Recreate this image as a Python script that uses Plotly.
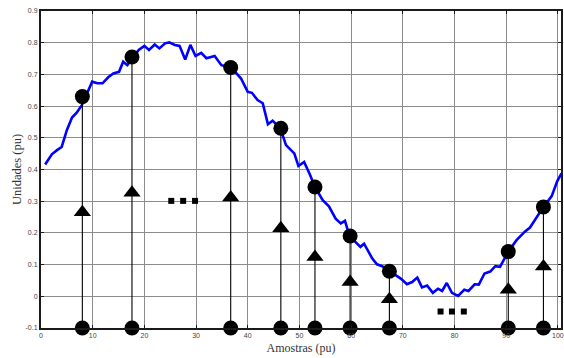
import plotly.graph_objects as go

# Blue signal curve (traced)
line_x = [0.8, 2.1, 3.1, 4.0, 5.0, 6.0, 6.9, 7.9, 8.9, 9.9, 10.9, 11.9, 13.0, 14.0, 15.1, 15.9, 16.7,
          17.8, 18.9, 20.0, 20.9, 22.0, 22.9, 24.0, 24.8, 25.9, 26.8, 27.9, 28.9, 29.9, 31.0, 32.0,
          33.6, 34.9, 36.8, 38.7, 40.0, 40.8, 41.9, 42.9, 43.9, 44.8, 46.3, 47.4, 49.0, 49.8, 50.9,
          52.0, 53.0, 54.5, 55.7, 57.0, 58.0, 58.8, 59.7, 61.8, 62.5, 64.1, 65.0, 66.0, 67.4, 69.6,
          70.8, 71.8, 72.8, 73.7, 74.7, 75.8, 76.8, 77.6, 78.5, 79.5, 80.7, 81.9, 82.7, 83.9, 84.7,
          85.8, 86.9, 87.9, 88.8, 90.4, 92.0, 93.6, 94.6, 95.7, 97.2, 98.8, 99.9, 100.7]
line_y = [0.416, 0.448, 0.461, 0.471, 0.524, 0.564, 0.579, 0.603, 0.640, 0.677, 0.672, 0.672, 0.691,
          0.703, 0.708, 0.740, 0.729, 0.755, 0.777, 0.790, 0.777, 0.794, 0.782, 0.798, 0.801, 0.793,
          0.790, 0.747, 0.793, 0.758, 0.768, 0.751, 0.758, 0.729, 0.722, 0.687, 0.645, 0.642, 0.619,
          0.609, 0.543, 0.554, 0.530, 0.477, 0.451, 0.411, 0.424, 0.385, 0.345, 0.303, 0.284, 0.245,
          0.230, 0.238, 0.190, 0.156, 0.166, 0.119, 0.101, 0.095, 0.079, 0.056, 0.038, 0.045, 0.059,
          0.028, 0.034, 0.011, 0.024, 0.017, 0.042, 0.011, 0.001, 0.021, 0.017, 0.038, 0.037, 0.072,
          0.078, 0.095, 0.093, 0.141, 0.177, 0.204, 0.217, 0.245, 0.282, 0.316, 0.364, 0.388]

# Sampled points
sample_x = [8.0, 17.6, 36.7, 46.4, 53.0, 59.8, 67.4, 90.4, 97.2]
sample_y = [0.63, 0.755, 0.722, 0.530, 0.345, 0.190, 0.079, 0.141, 0.282]
tri_y = [0.265, 0.327, 0.312, 0.215, 0.124, 0.045, -0.009, 0.021, 0.094]
base_y = -0.1

# Ellipsis squares
dots1_x = [25.2, 27.5, 29.8]
dots1_y = [0.301, 0.301, 0.301]
dots2_x = [77.3, 79.5, 81.8]
dots2_y = [-0.048, -0.048, -0.048]

x_ticks = [0, 10, 20, 30, 40, 50, 60, 70, 80, 90, 100]
y_ticks = [-0.1, 0, 0.1, 0.2, 0.3, 0.4, 0.5, 0.6, 0.7, 0.8, 0.9]
y_tick_text = ["-0.1", "0", "0.1", "0.2", "0.3", "0.4", "0.5", "0.6", "0.7", "0.8", "0.9"]

stem_x, stem_y = [], []
for sx, sy in zip(sample_x, sample_y):
    stem_x += [sx, sx, None]
    stem_y += [base_y, sy, None]

fig = go.Figure()
fig.add_trace(go.Scatter(x=line_x, y=line_y, mode="lines",
                         line=dict(color="#0000ff", width=2.6), hoverinfo="skip"))
fig.add_trace(go.Scatter(x=stem_x, y=stem_y, mode="lines",
                         line=dict(color="#000000", width=1.1), hoverinfo="skip"))
fig.add_trace(go.Scatter(x=sample_x, y=sample_y, mode="markers",
                         marker=dict(symbol="circle", size=15, color="#000000")))
fig.add_trace(go.Scatter(x=sample_x, y=[base_y] * len(sample_x), mode="markers",
                         marker=dict(symbol="circle", size=15, color="#000000"), cliponaxis=False))
fig.add_trace(go.Scatter(x=sample_x, y=tri_y, mode="markers",
                         marker=dict(symbol="triangle-up", size=15, color="#000000")))
fig.add_trace(go.Scatter(x=dots1_x + dots2_x, y=dots1_y + dots2_y, mode="markers",
                         marker=dict(symbol="square", size=6, color="#000000")))

axis_common = dict(
    showgrid=True, gridcolor="#8c8c8c", gridwidth=1,
    showline=True, linecolor="#1a1a1a", linewidth=2, mirror="ticks",
    ticks="inside", ticklen=3, tickcolor="#1a1a1a",
    zeroline=False,
    tickfont=dict(family="Liberation Sans, Arial", size=7, color="#444444"),
)

fig.update_layout(
    width=564, height=358,
    margin=dict(l=41, r=1, t=11, b=30),
    paper_bgcolor="white", plot_bgcolor="white",
    showlegend=False,
    xaxis=dict(range=[0, 100.6], tickvals=x_ticks, ticktext=[str(v) for v in x_ticks],
               title=dict(text="Amostras (pu)", standoff=5,
                          font=dict(family="Liberation Serif, Times New Roman", size=12, color="#333333")),
               **axis_common),
    yaxis=dict(range=[-0.1, 0.9], tickvals=y_ticks, ticktext=y_tick_text,
               title=dict(text="Unidades (pu)", standoff=1,
                          font=dict(family="Liberation Serif, Times New Roman", size=12.5, color="#333333")),
               **axis_common),
)

fig.write_html(
    "out.html",
    config={"displayModeBar": False},
    post_script="document.body.style.margin='0';document.body.style.overflow='hidden';",
)
